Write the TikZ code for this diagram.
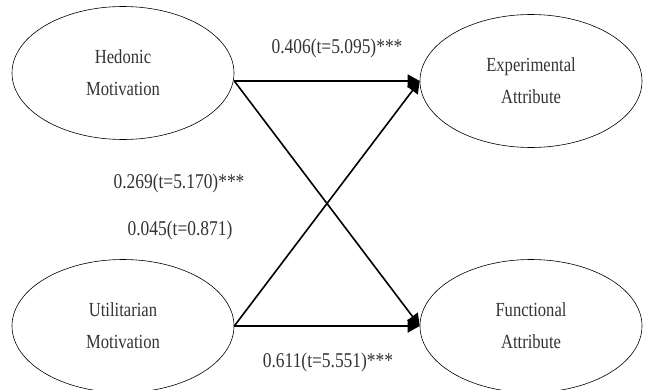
\documentclass[tikz,border=0pt]{standalone}
\usepackage{fontspec}
\setmainfont{Liberation Serif}[FakeStretch=0.83]
\usetikzlibrary{arrows.meta,shapes.geometric}
\begin{document}
\begin{tikzpicture}[x=1pt,y=1pt,
	construct/.style={ellipse,draw,line width=0.6pt,minimum width=222pt,minimum height=133pt,inner sep=0pt,align=center,text=black!80,font=\fontsize{20}{32}\selectfont},
	path/.style={line width=1.6pt,-{Triangle[length=12pt,width=13pt]}},
	coef/.style={text=black!80,font=\fontsize{21}{25}\selectfont}]
	\useasboundingbox (0,0) rectangle (647,389);

        \node at (123,316) [construct] (hed) {Hedonic\\Motivation};
        \node at (123,63) [construct] (uti) {Utilitarian\\Motivation};
        \node at (531,308) [construct] (exp) {Experimental\\Attribute};
        \node at (531,63) [construct] (fun) {Functional\\Attribute};
	\coordinate (hout) at (hed.east |- exp.west);

	\node at (337,341) [coef] (c1) {0.406(t=5.095)***};
	\node at (179,206) [coef] (c2) {0.269(t=5.170)***};
	\node at (180,159) [coef] (c3) {0.045(t=0.871)};
	\node at (328,27) [coef] (c4) {0.611(t=5.551)***};

     \draw [path] (hout) -- (exp.west);
     \draw [path] (hout) -- (fun.west);
     \draw [path] (uti.east) -- (exp.west);
     \draw [path] (uti.east) -- (fun.west);
    \end{tikzpicture}
\end{document}
